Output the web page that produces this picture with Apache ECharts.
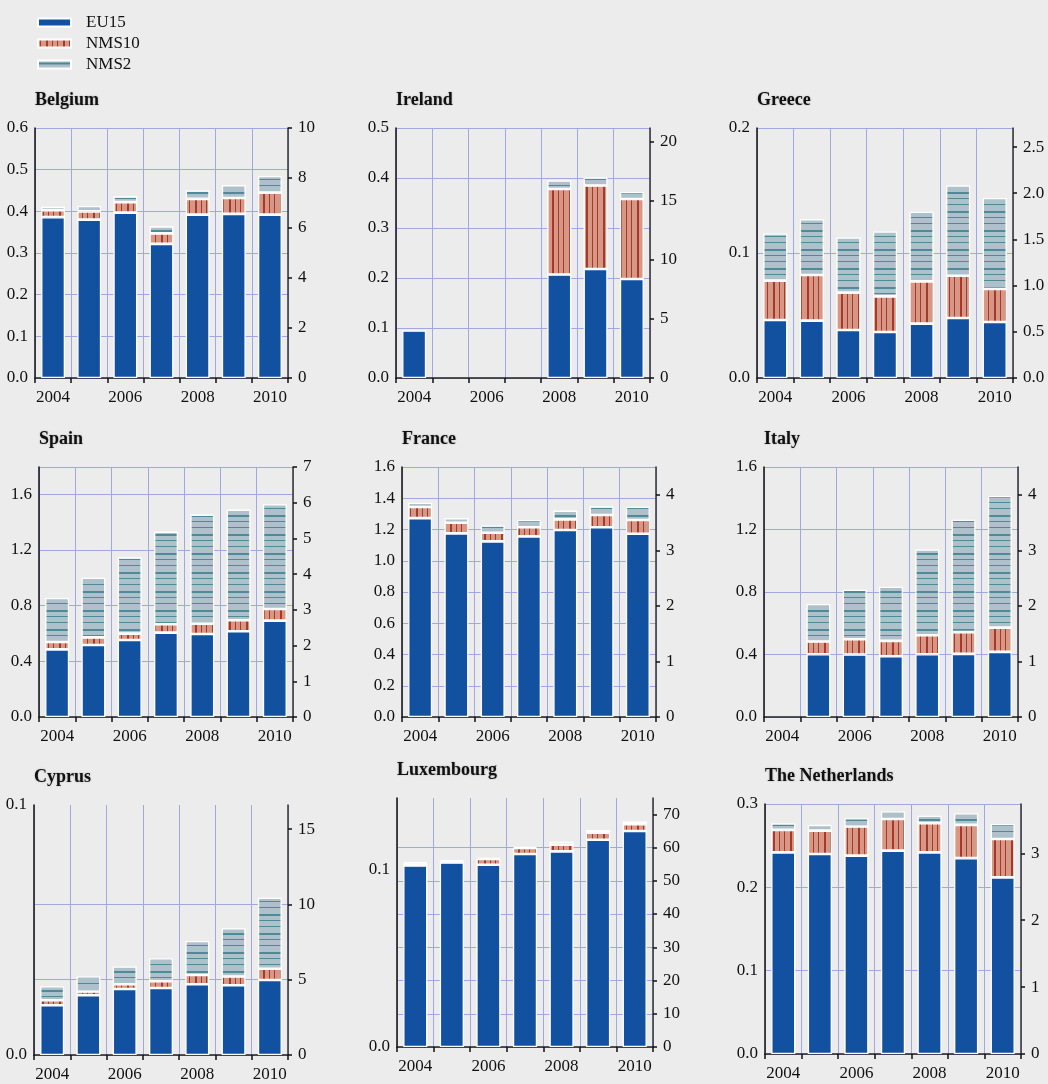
<!DOCTYPE html>
<html>
<head>
<meta charset="utf-8">
<script src="https://cdn.jsdelivr.net/npm/echarts@6/dist/echarts.min.js"></script>
<style>
html, body { margin: 0; padding: 0; background: #ececec; }
#main { width: 1048px; height: 1084px; }
</style>
</head>
<body>
<div id="main"></div>
<script>
var years = ['2004', '2005', '2006', '2007', '2008', '2009', '2010'];
var countries = ['Belgium', 'Ireland', 'Greece', 'Spain', 'France', 'Italy', 'Cyprus', 'Luxembourg', 'The Netherlands'];

// stacked pieces, one row per country (left axis units)
var eu15 = [
    [0.386, 0.380, 0.397, 0.322, 0.392, 0.394, 0.392],
    [0.095, null, null, null, 0.207, 0.218, 0.198],
    [0.0464, 0.0459, 0.0384, 0.0368, 0.0435, 0.048, 0.0448],
    [0.486, 0.517, 0.553, 0.606, 0.596, 0.616, 0.692],
    [1.273, 1.175, 1.124, 1.156, 1.197, 1.214, 1.173],
    [null, 0.402, 0.400, 0.389, 0.402, 0.404, 0.417],
    [0.0199, 0.0239, 0.0264, 0.0268, 0.0283, 0.0279, 0.0300],
    [0.1023, 0.1040, 0.1028, 0.1088, 0.1103, 0.1169, 0.1218],
    [0.242, 0.240, 0.238, 0.244, 0.242, 0.235, 0.212]
];
var nms10 = [
    [0.017, 0.020, 0.025, 0.025, 0.038, 0.038, 0.053],
    [null, null, null, null, 0.171, 0.167, 0.160],
    [0.0315, 0.0365, 0.0299, 0.0285, 0.0338, 0.0339, 0.0264],
    [0.053, 0.055, 0.046, 0.060, 0.075, 0.079, 0.084],
    [0.071, 0.069, 0.055, 0.058, 0.068, 0.079, 0.088],
    [null, 0.081, 0.098, 0.098, 0.121, 0.139, 0.155],
    [0.0020, 0.0015, 0.0019, 0.0027, 0.0037, 0.0035, 0.0045],
    [0.0013, 0.0008, 0.0032, 0.0034, 0.0038, 0.0039, 0.0038],
    [0.027, 0.028, 0.035, 0.038, 0.035, 0.040, 0.046]
];
var nms2 = [
    [0.008, 0.013, 0.014, 0.017, 0.020, 0.031, 0.040],
    [null, null, null, null, 0.017, 0.016, 0.014],
    [0.0378, 0.0446, 0.0442, 0.0520, 0.0557, 0.0722, 0.0728],
    [0.316, 0.429, 0.548, 0.666, 0.783, 0.795, 0.752],
    [0.028, 0.029, 0.047, 0.047, 0.056, 0.055, 0.085],
    [null, 0.240, 0.317, 0.347, 0.549, 0.719, 0.843],
    [0.0056, 0.0060, 0.0071, 0.0092, 0.0136, 0.0193, 0.0284],
    [0.0007, 0.0006, 0.0006, 0.0006, 0.0017, 0.0015, 0.0015],
    [0.008, 0.007, 0.010, 0.009, 0.009, 0.014, 0.018]
];

// axis ranges and tick labels
var leftMax = [0.6, 0.5, 0.2, 1.796, 1.6, 1.6, 0.1, 0.1404, 0.3];
var rightMax = [10, 21.13, 2.706, 7, 4.5, 4.5, 16.6, 74.9, 3.737];
var leftTicks = [
    [0, 0.1, 0.2, 0.3, 0.4, 0.5, 0.6],
    [0, 0.1, 0.2, 0.3, 0.4, 0.5],
    [0, 0.1, 0.2],
    [0, 0.4, 0.8, 1.2, 1.6],
    [0, 0.2, 0.4, 0.6, 0.8, 1.0, 1.2, 1.4, 1.6],
    [0, 0.4, 0.8, 1.2, 1.6],
    [0, 0.1],
    [0, 0.1],
    [0, 0.1, 0.2, 0.3]
];
var rightTicks = [
    [0, 2, 4, 6, 8, 10],
    [0, 5, 10, 15, 20],
    [0, 0.5, 1.0, 1.5, 2.0, 2.5],
    [0, 1, 2, 3, 4, 5, 6, 7],
    [0, 1, 2, 3, 4],
    [0, 1, 2, 3, 4],
    [0, 5, 10, 15],
    [0, 10, 20, 30, 40, 50, 60, 70],
    [0, 1, 2, 3]
];
var gridFromRight = [false, false, false, false, false, false, true, true, false];
var rightDecimals = [0, 0, 1, 0, 0, 0, 0, 0, 0];

// panel boxes: left, top, width, height
var boxes = [
    [35, 128, 253, 250], [396, 128, 254, 250], [757, 128, 256, 250],
    [39, 467, 254, 250], [402, 467, 254, 250], [764, 467, 254, 250],
    [34, 805, 254, 250], [397, 798, 256, 249], [765, 804, 256, 250]
];

var FONT = '"Liberation Serif", "DejaVu Serif", serif';
var GRIDCOL = '#9fa8e2';

function stripes(w, h, base, line, vertical, marks) {
    var c = document.createElement('canvas');
    c.width = w;
    c.height = h;
    var ctx = c.getContext('2d');
    ctx.fillStyle = base;
    ctx.fillRect(0, 0, w, h);
    ctx.fillStyle = line;
    marks.forEach(function (m) {
        if (vertical) ctx.fillRect(m[0], 0, m[1], h);
        else ctx.fillRect(0, m[0], w, m[1]);
    });
    return c;
}

var fillEU15 = '#1250a0';
var fillNMS10 = {image: stripes(17, 4, '#d69784', '#a8382b', true, [[2, 1], [8, 2], [14, 1]]), repeat: 'repeat'};
var fillNMS2 = {image: stripes(4, 19, '#aec0c9', '#4f8a99', false, [[2, 2], [8, 1], [14, 1]]), repeat: 'repeat'};

var titles = [], grids = [], xAxes = [], yAxes = [], series = [];

countries.forEach(function (name, i) {
    var b = boxes[i];
    titles.push({
        text: name,
        left: b[0],
        top: b[1] - 37,
        padding: 0,
        textStyle: {
            fontFamily: FONT, fontWeight: 'bold', fontSize: 18, color: '#111',
            textShadowColor: 'rgba(0,0,0,0.25)', textShadowBlur: 2
        }
    });
    grids.push({left: b[0], top: b[1], width: b[2], height: b[3], containLabel: false});

    xAxes.push({
        type: 'category',
        gridIndex: i,
        data: years,
        boundaryGap: true,
        axisLine: {lineStyle: {color: '#222', width: 1.5}},
        axisTick: {show: true, interval: 0, length: 5, lineStyle: {color: '#111', width: 1.5}},
        axisLabel: {interval: 1, margin: 11, fontFamily: FONT, fontSize: 17, color: '#111'},
        splitLine: {show: true, interval: 0, lineStyle: {color: GRIDCOL, width: 1}}
    });

    var lt = leftTicks[i];
    yAxes.push({
        type: 'value',
        gridIndex: i,
        position: 'left',
        min: 0,
        max: leftMax[i],
        interval: lt[1] - lt[0],
        axisLine: {show: true, onZero: false, lineStyle: {color: '#111', width: 1.5}},
        axisTick: {show: false},
        axisLabel: {
            customValues: lt,
            margin: 7,
            fontFamily: FONT, fontSize: 17, color: '#111',
            formatter: function (v) { return Number(v).toFixed(1); }
        },
        splitLine: {show: !gridFromRight[i], lineStyle: {color: GRIDCOL, width: 1}}
    });

    var rt = rightTicks[i];
    var dec = rightDecimals[i];
    yAxes.push({
        type: 'value',
        gridIndex: i,
        position: 'right',
        min: 0,
        max: rightMax[i],
        interval: rt[1] - rt[0],
        axisLine: {show: true, onZero: false, lineStyle: {color: '#333', width: 1.5}},
        axisTick: {show: true, customValues: rt, length: 4, lineStyle: {color: '#111', width: 1.5}},
        axisLabel: {
            customValues: rt,
            margin: 10,
            fontFamily: FONT, fontSize: 17, color: '#111',
            formatter: function (v) { return Number(v).toFixed(dec); }
        },
        splitLine: {show: gridFromRight[i], showMaxLine: false, lineStyle: {color: GRIDCOL, width: 1}}
    });

    [['EU15', eu15, fillEU15], ['NMS10', nms10, fillNMS10], ['NMS2', nms2, fillNMS2]].forEach(function (s) {
        series.push({
            name: s[0],
            type: 'bar',
            stack: 'c' + i,
            xAxisIndex: i,
            yAxisIndex: 2 * i,
            barWidth: '66%',
            data: s[1][i],
            itemStyle: {color: s[2], borderColor: '#ffffff', borderWidth: 1.3},
            emphasis: {disabled: true}
        });
    });
});

var chart = echarts.init(document.getElementById('main'), null, {renderer: 'canvas'});
chart.setOption({
    backgroundColor: '#ececec',
    animation: false,
    title: titles,
    legend: {
        data: ['EU15', 'NMS10', 'NMS2'],
        orient: 'vertical',
        left: 37,
        top: 14,
        padding: 0,
        itemWidth: 33,
        itemHeight: 8,
        itemGap: 4,
        icon: 'rect',
        textStyle: {fontFamily: FONT, fontSize: 17, color: '#111', padding: [0, 0, 0, 10]}
    },
    grid: grids,
    xAxis: xAxes,
    yAxis: yAxes,
    series: series
});
</script>
</body>
</html>
